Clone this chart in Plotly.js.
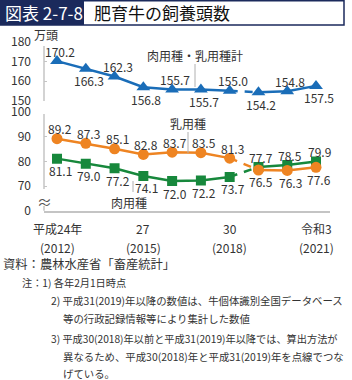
<!DOCTYPE html>
<html>
<head>
<meta charset="utf-8">
<script src="https://cdn.plot.ly/plotly-3.0.1.min.js"></script>
<style>
html,body{margin:0;padding:0;background:#fff;}
#chart{width:352px;height:380px;}
</style>
</head>
<body>
<div id="chart"></div>
<script>
// ---- data ----
const years = [2012, 2013, 2014, 2015, 2016, 2017, 2018, 2019, 2020, 2021];
const totalHead = [170.2, 166.3, 162.3, 156.8, 155.7, 155.7, 155.0, 154.2, 154.8, 157.5];
const dairyHead = [89.2, 87.3, 85.1, 82.8, 83.7, 83.5, 81.3, 76.5, 76.3, 77.6];
const beefHead = [81.1, 79.0, 77.2, 74.1, 72.0, 72.2, 73.7, 77.7, 78.5, 79.9];
const xTickYears = [2012, 2015, 2018, 2021];
const xTickEra = ['平成24年', '27', '30', '令和3'];
const xTickWestern = ['(2012)', '(2015)', '(2018)', '(2021)'];
const upperTickVals = [150, 160, 170, 180];
const lowerTickVals = [60, 70, 80, 90, 100];
const lowerTickText = ['0', '70', '80', '90', '100'];
const seriesNames = ['肉用種・乳用種計', '乳用種', '肉用種'];
const unitLabel = '万頭';
const titleTag = '図表 2-7-8';
const titleText = '肥育牛の飼養頭数';
const notes = [
  '資料：農林水産省「畜産統計」',
  '注：1) 各年2月1日時点',
  '2) 平成31(2019)年以降の数値は、牛個体識別全国データベース',
  '等の行政記録情報等により集計した数値',
  '3) 平成30(2018)年以前と平成31(2019)年以降では、算出方法が',
  '異なるため、平成30(2018)年と平成31(2019)年を点線でつな',
  'げている。'
];

// label placement (a = above, b = below)
const totalLabelPos = ['a','b','a','b','a','b','a','b','a','b'];
const dairyLabelPos = ['a','a','a','a','a','a','a','b','b','b'];
const beefLabelPos  = ['b','b','b','b','b','b','b','a','a','a'];

// ---- styling ----
const W = 352, H = 380;
const px = x => x / W;
const py = y => 1 - y / H;
const FONT = '"Noto Sans CJK JP", "Noto Sans", sans-serif';
const TXT = '#333333';
const AX = '#c4c4c4';
const BLUE = '#1a6db8';
const ORANGE = '#ee8422';
const GREEN = '#17883c';
const SPLIT = 6; // index of 2018; 2018->2019 drawn dashed

function segTraces(vals, yaxis, color, symbol, msize) {
  const solidA = {x: years.slice(0, SPLIT + 1), y: vals.slice(0, SPLIT + 1)};
  const dashed = {x: years.slice(SPLIT, SPLIT + 2), y: vals.slice(SPLIT, SPLIT + 2)};
  const solidB = {x: years.slice(SPLIT + 1), y: vals.slice(SPLIT + 1)};
  const base = {type: 'scatter', yaxis: yaxis, xaxis: 'x', hoverinfo: 'skip', showlegend: false};
  return [
    Object.assign({}, base, dashed, {mode: 'lines', line: {color: color, width: 2.5, dash: '8px,7px'}}),
    Object.assign({}, base, solidA, {mode: 'lines+markers', line: {color: color, width: 2.5},
      marker: {color: color, symbol: symbol, size: msize}}),
    Object.assign({}, base, solidB, {mode: 'lines+markers', line: {color: color, width: 2.5},
      marker: {color: color, symbol: symbol, size: msize}})
  ];
}

const traces = [].concat(
  segTraces(totalHead, 'y', BLUE, 'triangle-up', 12),
  segTraces(beefHead, 'y2', GREEN, 'square', 10),
  segTraces(dairyHead, 'y2', ORANGE, 'circle', 11)
);

const annotations = [];
function valueLabels(vals, yref, pos) {
  vals.forEach((v, i) => {
    annotations.push({
      x: years[i], y: v, xref: 'x', yref: yref, text: v.toFixed(1), showarrow: false,
      xanchor: 'center', yanchor: 'middle', xshift: 3, yshift: pos[i] === 'a' ? 10 : -12,
      font: {family: FONT, size: 12, color: TXT}
    });
  });
}
valueLabels(totalHead, 'y', totalLabelPos);
valueLabels(beefHead, 'y2', beefLabelPos);
valueLabels(dairyHead, 'y2', dairyLabelPos);

// x tick labels (two rows)
xTickYears.forEach((yr, i) => {
  annotations.push({x: yr, xref: 'x', y: py(228.5), yref: 'paper', text: xTickEra[i], showarrow: false,
    xanchor: 'center', yanchor: 'middle', font: {family: FONT, size: 12, color: TXT}});
  annotations.push({x: yr, xref: 'x', y: py(247), yref: 'paper', text: xTickWestern[i], showarrow: false,
    xanchor: 'center', yanchor: 'middle', font: {family: FONT, size: 12, color: TXT}});
});

// series labels
annotations.push({x: px(195), y: py(55), xref: 'paper', yref: 'paper', text: seriesNames[0], showarrow: false,
  xanchor: 'center', yanchor: 'middle', font: {family: FONT, size: 12, color: TXT}});
annotations.push({x: px(188), y: py(123), xref: 'paper', yref: 'paper', text: seriesNames[1], showarrow: false,
  xanchor: 'center', yanchor: 'middle', font: {family: FONT, size: 12, color: TXT}});
annotations.push({x: px(129), y: py(202), xref: 'paper', yref: 'paper', text: seriesNames[2], showarrow: false,
  xanchor: 'center', yanchor: 'middle', font: {family: FONT, size: 12, color: TXT}});

// unit + break mark
annotations.push({x: px(46), y: py(34), xref: 'paper', yref: 'paper', text: unitLabel, showarrow: false,
  xanchor: 'center', yanchor: 'middle', font: {family: FONT, size: 12, color: TXT}});
annotations.push({x: px(44), y: py(201), xref: 'paper', yref: 'paper', text: '≈', showarrow: false,
  xanchor: 'center', yanchor: 'middle', font: {family: FONT, size: 15, color: '#555'}});

// title
annotations.push({x: px(3), y: py(12.5), xref: 'paper', yref: 'paper', text: titleTag, showarrow: false,
  xanchor: 'left', yanchor: 'middle', font: {family: FONT, size: 17, color: '#ffffff'}});
annotations.push({x: px(92), y: py(12.5), xref: 'paper', yref: 'paper', text: titleText, showarrow: false,
  xanchor: 'left', yanchor: 'middle', font: {family: FONT, size: 17, color: '#111'}});

// notes
const noteX = [1, 20, 49, 61, 49, 61, 61];
const noteY = [264, 282, 300, 318, 338, 356, 373];
const noteSize = [12.3, 10.2, 10.4, 10.4, 10.2, 10.4, 10.4];
notes.forEach((t, i) => {
  annotations.push({x: px(noteX[i]), y: py(noteY[i]), xref: 'paper', yref: 'paper', text: t, showarrow: false,
    xanchor: 'left', yanchor: 'middle', font: {family: FONT, size: noteSize[i], color: TXT}});
});

const shapes = [
  // title bar
  {type: 'rect', xref: 'paper', yref: 'paper', x0: px(0.75), x1: px(344), y0: py(0.75), y1: py(25),
    line: {color: '#1b2a5c', width: 1.5}, fillcolor: 'rgba(0,0,0,0)'},
  {type: 'rect', xref: 'paper', yref: 'paper', x0: px(0), x1: px(84), y0: py(0), y1: py(25),
    line: {width: 0}, fillcolor: '#1b2a5c'},
  // y axis lines
  {type: 'line', xref: 'paper', yref: 'paper', x0: px(44), x1: px(44), y0: py(46), y1: py(101), line: {color: AX, width: 1.5}},
  {type: 'line', xref: 'paper', yref: 'paper', x0: px(44), x1: px(44), y0: py(114), y1: py(189), line: {color: AX, width: 1.5}},
  {type: 'line', xref: 'paper', yref: 'paper', x0: px(44), x1: px(44), y0: py(206), y1: py(210.7), line: {color: AX, width: 1.5}},
  // leader lines
  {type: 'line', xref: 'paper', yref: 'paper', x0: px(195), x1: px(195), y0: py(64), y1: py(87), line: {color: '#b0b0b0', width: 1}},
  {type: 'line', xref: 'paper', yref: 'paper', x0: px(188), x1: px(188), y0: py(132), y1: py(153), line: {color: '#b0b0b0', width: 1}},
  {type: 'line', xref: 'paper', yref: 'paper', x0: px(133), x1: px(133), y0: py(181), y1: py(192), line: {color: '#b0b0b0', width: 1}}
];

const layout = {
  width: W, height: H,
  margin: {l: 0, r: 0, t: 0, b: 0},
  paper_bgcolor: '#fff', plot_bgcolor: 'rgba(0,0,0,0)',
  showlegend: false,
  font: {family: FONT, color: TXT},
  xaxis: {
    domain: [px(44), px(330)], range: [2011.548, 2021.486], anchor: 'y2',
    showgrid: false, zeroline: false, showline: true, linecolor: AX, linewidth: 2,
    ticks: '', showticklabels: false, fixedrange: true
  },
  yaxis: {
    domain: [py(100.5), py(42)], range: [150, 180], anchor: 'x',
    showgrid: false, zeroline: false, showline: false,
    tickvals: upperTickVals, ticks: 'inside', ticklen: 3, tickcolor: AX, tickwidth: 1,
    ticklabelstandoff: 12, tickfont: {family: FONT, size: 12, color: TXT}
  },
  yaxis2: {
    domain: [py(210.7), py(112)], range: [60, 100], anchor: 'x',
    showgrid: false, zeroline: false, showline: false,
    tickvals: lowerTickVals, ticktext: lowerTickText, ticks: 'inside', ticklen: 3, tickcolor: AX, tickwidth: 1,
    ticklabelstandoff: 12, tickfont: {family: FONT, size: 12, color: TXT}
  },
  annotations: annotations,
  shapes: shapes
};

Plotly.newPlot('chart', traces, layout, {staticPlot: true, displayModeBar: false});
</script>
</body>
</html>
